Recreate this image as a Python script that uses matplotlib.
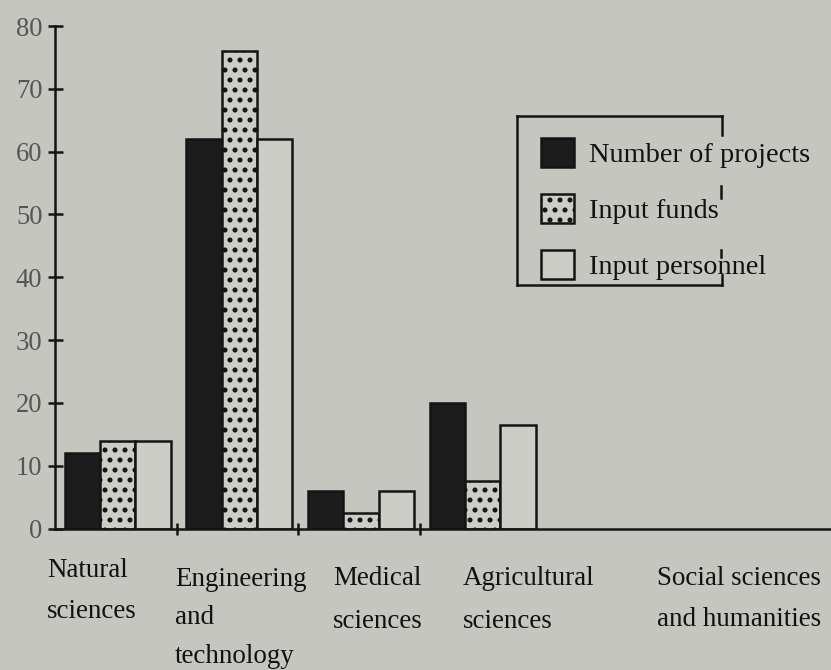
import matplotlib
matplotlib.use("Agg")
import matplotlib.pyplot as plt
import numpy as np
from matplotlib.lines import Line2D
from matplotlib.transforms import blended_transform_factory

# ---------------- data ----------------
categories = ["Natural\nsciences", "Engineering\nand\ntechnology", "Medical\nsciences",
              "Agricultural\nsciences", "Social sciences\nand humanities"]
projects = [12, 62, 6, 20, 0]
funds = [14, 76, 2.5, 7.5, 0]
personnel = [14, 62, 6, 16.5, 0]
y_ticks = [0, 10, 20, 30, 40, 50, 60, 70, 80]
series_labels = ["Number of projects", "Input funds", "Input personnel"]

# ---------------- style ----------------
W, H, DPI = 831, 670, 120
BG = "#c6c6c0"
LIGHT = "#cdcdc8"
INK = "#141414"
plt.rcParams["font.family"] = ["Liberation Serif", "DejaVu Serif"]
plt.rcParams["hatch.linewidth"] = 1.8

fig = plt.figure(figsize=(W / DPI, H / DPI), dpi=DPI, facecolor=BG)
x0_px, y0_px, ytop_px, cat_px = 55, 528.5, 26, 121.7
ax = fig.add_axes([x0_px / W, (H - y0_px) / H, 1 - x0_px / W, (y0_px - ytop_px) / H])
ax.set_facecolor(BG)
ax.set_xlim(0, (W - x0_px) / cat_px)
ax.set_ylim(0, 80)

x = np.arange(len(categories))
w, off = 0.29, 0.08
lw = 1.5

def edge_widths(vals):
    return [lw if v > 0 else 0 for v in vals]

b1 = ax.bar(x + off, projects, w, align="edge", color="#1c1c1c", edgecolor=INK,
            linewidth=edge_widths(projects))
b2 = ax.bar(x + off + w, funds, w, align="edge", color=LIGHT, edgecolor=INK,
            linewidth=edge_widths(funds), hatch="..")
b3 = ax.bar(x + off + 2 * w, personnel, w, align="edge", color=LIGHT, edgecolor=INK,
            linewidth=edge_widths(personnel))
for c in (b1, b2, b3):
    c.patches[0].set_linewidth(lw)

for s in ["top", "right"]:
    ax.spines[s].set_visible(False)
for s in ["left", "bottom"]:
    ax.spines[s].set_linewidth(lw)
    ax.spines[s].set_color(INK)

ax.set_yticks(y_ticks)
ax.tick_params(axis="y", direction="inout", length=9, width=lw, color=INK, pad=3,
               labelsize=16, labelcolor="#555553")
ax.set_xticks(x[1:-1])
ax.set_xticklabels([])
ax.tick_params(axis="x", direction="inout", length=7.5, width=lw, color=INK)

# category labels, drawn line by line
tr = blended_transform_factory(ax.transData, fig.transFigure)
label_x = [-0.063, 0.986, 2.287, 3.352, 4.944]
first_base_px = [577, 586, 585, 585, 585]
line_gap_px = [41.5, 38.5, 42.5, 42.5, 41.5]
for lab, lx, fb, gap in zip(categories, label_x, first_base_px, line_gap_px):
    for k, line in enumerate(lab.split("\n")):
        ax.text(lx, (H - (fb + k * gap)) / H, line, transform=tr, ha="left", va="baseline",
                fontsize=16.2, color="#111111")

# legend
leg = fig.legend([b1, b2, b3], series_labels, loc="upper left",
                 bbox_to_anchor=(540.7 / W, (H - 138.3) / H), bbox_transform=fig.transFigure,
                 frameon=False, borderpad=0, borderaxespad=0, fontsize=17,
                 handlelength=1.16, handleheight=1.16, handletextpad=0.55, labelspacing=0.93)
for t in leg.get_texts():
    t.set_color("#111111")

def fl(xs, ys, **kw):
    fig.add_artist(Line2D([v / W for v in xs], [(H - v) / H for v in ys],
                          transform=fig.transFigure, color=INK, linewidth=1.5, **kw))

fl([517, 722], [116, 116])
fl([517, 517], [116, 285])
fl([517, 722], [285, 285])
fl([722, 722], [116, 135])
fl([721, 721], [186, 198])
fl([721, 721], [250, 257])
fl([722, 722], [275, 285])

fig.savefig("out.png", dpi=DPI, facecolor=BG)
